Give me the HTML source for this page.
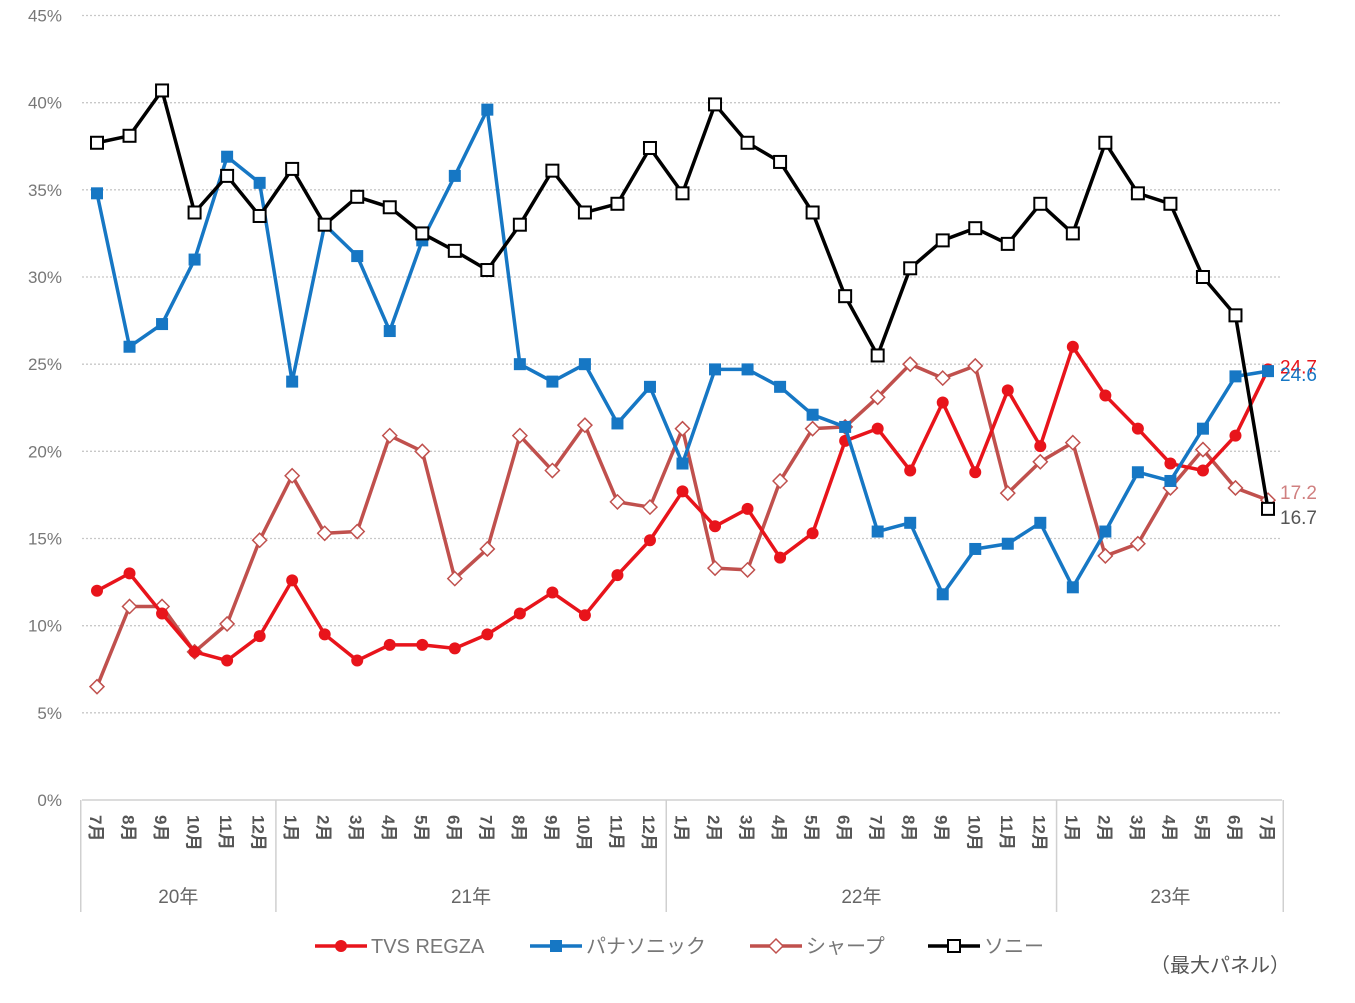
<!DOCTYPE html>
<html><head><meta charset="utf-8"><style>
body{margin:0;background:#fff;}
svg text{font-family:"Liberation Sans","Noto Sans CJK JP",sans-serif;}
</style></head><body>
<svg id="chart" width="1355" height="998" xmlns="http://www.w3.org/2000/svg"></svg>
<script>
const months=[7,8,9,10,11,12,1,2,3,4,5,6,7,8,9,10,11,12,1,2,3,4,5,6,7,8,9,10,11,12,1,2,3,4,5,6,7];
const years=[{label:"20年",from:0,to:5},{label:"21年",from:6,to:17},{label:"22年",from:18,to:29},{label:"23年",from:30,to:36}];
const yTicks=[0,5,10,15,20,25,30,35,40,45];
const tvs=[12.0,13.0,10.7,8.5,8.0,9.4,12.6,9.5,8.0,8.9,8.9,8.7,9.5,10.7,11.9,10.6,12.9,14.9,17.7,15.7,16.7,13.9,15.3,20.6,21.3,18.9,22.8,18.8,23.5,20.3,26.0,23.2,21.3,19.3,18.9,20.9,24.7];
const pana=[34.8,26.0,27.3,31.0,36.9,35.4,24.0,33.0,31.2,26.9,32.1,35.8,39.6,25.0,24.0,25.0,21.6,23.7,19.3,24.7,24.7,23.7,22.1,21.4,15.4,15.9,11.8,14.4,14.7,15.9,12.2,15.4,18.8,18.3,21.3,24.3,24.6];
const sharp=[6.5,11.1,11.1,8.5,10.1,14.9,18.6,15.3,15.4,20.9,20.0,12.7,14.4,20.9,18.9,21.5,17.1,16.8,21.3,13.3,13.2,18.3,21.3,21.4,23.1,25.0,24.2,24.9,17.6,19.4,20.5,14.0,14.7,17.9,20.1,17.9,17.2];
const sony=[37.7,38.1,40.7,33.7,35.8,33.5,36.2,33.0,34.6,34.0,32.5,31.5,30.4,33.0,36.1,33.7,34.2,37.4,34.8,39.9,37.7,36.6,33.7,28.9,25.5,30.5,32.1,32.8,31.9,34.2,32.5,37.7,34.8,34.2,30.0,27.8,16.7];
const seriesNames=["TVS REGZA","パナソニック","シャープ","ソニー"];

const svg=document.getElementById('chart');
const NS="http://www.w3.org/2000/svg";
const x0=97,x1=1268,y0=800,y45=15.5;
const X=i=>x0+i*(x1-x0)/(months.length-1);
const Y=v=>y0-(v/45)*(y0-y45);
function mk(tag,attrs,parent){const e=document.createElementNS(NS,tag);for(const k in attrs)e.setAttribute(k,attrs[k]);(parent||svg).appendChild(e);return e;}

// grid + y labels
yTicks.forEach(t=>{
  if(t>0){const g=mk('line',{x1:82,x2:1280,y1:Y(t),y2:Y(t),stroke:'#c8c8c8','stroke-width':1.3,'stroke-dasharray':'2,2'});
  
  }
  const tx=mk('text',{x:62,y:Y(t)+6,'text-anchor':'end','font-size':17,fill:'#777'});
  tx.textContent=t+'%';
  
  
});
// axis
const ax=mk('line',{x1:82,x2:1282,y1:800,y2:800,stroke:'#d0d0d0','stroke-width':1.5});


const step=(x1-x0)/(months.length-1);
[0,6,18,30,37].forEach(i=>{
  const xx=x0+(i-0.5)*step+ (i===37?-1:0);
  const l=mk('line',{x1:xx,x2:xx,y1:800,y2:912,stroke:'#d0d0d0','stroke-width':1.5});
  
  
});
months.forEach((m,i)=>{
  const t=mk('text',{transform:`translate(${X(i)-7},815) rotate(90)`,'font-size':17,fill:'#555','font-weight':'bold'});
  t.textContent=m+'月';
  
  
});
years.forEach(y=>{
  const t=mk('text',{x:(X(y.from)+X(y.to))/2,y:903,'text-anchor':'middle','font-size':19,fill:'#666'});
  t.textContent=y.label;
  
  
});

function drawSeries(data,color,marker,name){
  const g=mk('g',{});
  
  
  mk('polyline',{points:data.map((v,i)=>X(i)+','+Y(v)).join(' '),fill:'none',stroke:color,'stroke-width':3.5,'stroke-linejoin':'round'},g);
  data.forEach((v,i)=>{
    let p;
    if(marker==='circle')p=mk('circle',{cx:X(i),cy:Y(v),r:6,fill:color},g);
    else if(marker==='square')p=mk('rect',{x:X(i)-6,y:Y(v)-6,width:12,height:12,fill:color},g);
    else if(marker==='diamond')p=mk('polygon',{points:`${X(i)},${Y(v)-7} ${X(i)+7},${Y(v)} ${X(i)},${Y(v)+7} ${X(i)-7},${Y(v)}`,fill:'#fff',stroke:color,'stroke-width':1.5},g);
    else p=mk('rect',{x:X(i)-6,y:Y(v)-6,width:12,height:12,fill:'#fff',stroke:color,'stroke-width':2},g);
    
    
  });
}
drawSeries(sharp,'#c0504d','diamond','sharp');
drawSeries(tvs,'#e8141b','circle','tvs-regza');
drawSeries(pana,'#1677c4','square','panasonic');
drawSeries(sony,'#000','hollow','sony');

// end labels
const ends=[[tvs,'#e8141b',-3],[pana,'#1677c4',3],[sharp,'#d08080',-8],[sony,'#555',8]];
ends.forEach(([d,c,dy])=>{
  const t=mk('text',{x:1280,y:Y(d[d.length-1])+7+dy,'font-size':19,fill:c});
  t.textContent=d[d.length-1].toFixed(1);
  
  
});

// legend
const leg=[[315,'#e8141b','circle'],[530,'#1677c4','square'],[750,'#c0504d','diamond'],[928,'#000','hollow']];
leg.forEach(([lx,c,m],k)=>{
  const g=mk('g',{});
  
  
  mk('line',{x1:lx,x2:lx+52,y1:946,y2:946,stroke:c,'stroke-width':3.5},g);
  const cx=lx+26;
  if(m==='circle')mk('circle',{cx:cx,cy:946,r:6,fill:c},g);
  else if(m==='square')mk('rect',{x:cx-6,y:940,width:12,height:12,fill:c},g);
  else if(m==='diamond')mk('polygon',{points:`${cx},939 ${cx+7},946 ${cx},953 ${cx-7},946`,fill:'#fff',stroke:c,'stroke-width':1.5},g);
  else mk('rect',{x:cx-6,y:940,width:12,height:12,fill:'#fff',stroke:c,'stroke-width':2},g);
  const t=mk('text',{x:lx+56,y:953,'font-size':20,fill:'#777'},g);
  t.textContent=seriesNames[k];
});
const note=mk('text',{x:1150,y:972,'font-size':20,fill:'#555'});
note.textContent='（最大パネル）';


</script>
</body></html>
